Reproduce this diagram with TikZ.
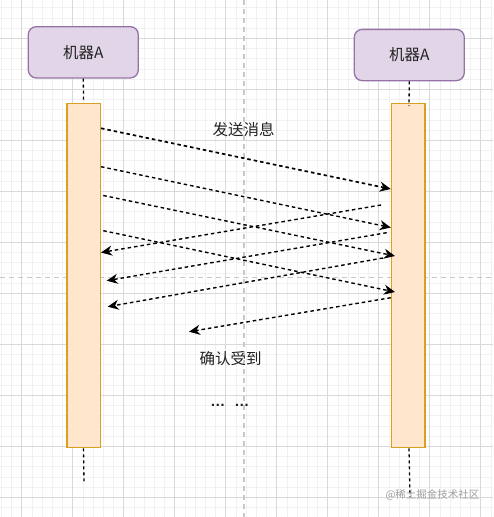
\documentclass[tikz,border=0pt]{standalone}
\usepackage{fontspec}
\setmainfont{Noto Sans CJK SC}
\newfontfamily\latinsans{Liberation Sans}
\usetikzlibrary{arrows.meta}
\definecolor{gridmajor}{HTML}{D9D9D9}
\definecolor{gridminor}{HTML}{F1F1F1}
\definecolor{guidec}{HTML}{C8C8C8}
\definecolor{actorfill}{HTML}{E1D5E7}
\definecolor{actordraw}{HTML}{9673A6}
\definecolor{barfill}{HTML}{FFE6CC}
\definecolor{bardraw}{HTML}{D9A020}
\definecolor{txt}{HTML}{222222}
\tikzset{
  actor/.style={draw=actordraw, fill=actorfill, line width=1.3pt, rounded corners=8pt,
    minimum width=110pt, minimum height=51.3pt, inner sep=0pt, font=\fontsize{15.5}{17}\selectfont, text=txt},
  actbar/.style={draw=bardraw, fill=barfill, line width=1.5pt, minimum width=33.5pt,
    minimum height=344.4pt, inner sep=0pt},
  life/.style={draw=black, line width=1.3pt, dash pattern=on 3pt off 3pt},
  msg/.style={draw=black, line width=1.4pt, dash pattern=on 3.5pt off 3pt,
    -{Stealth[length=11pt,width=10pt,inset=3.5pt]}},
  lbl/.style={font=\fontsize{15.5}{17}\selectfont, text=txt, inner sep=0pt},
  guide/.style={draw=guidec, line width=1.3pt, dash pattern=on 5pt off 4pt}
}
\begin{document}
\begin{tikzpicture}[x=1pt,y=-1pt]
\useasboundingbox (0,0) rectangle (493,517);
\fill[white] (0,0) rectangle (493,517);
% minor grid
\foreach \i in {-2,...,46} { \draw[gridminor, line width=0.8pt] ({21.7+10.2*\i},0) -- ({21.7+10.2*\i},517); }
\foreach \i in {-3,...,46} { \draw[gridminor, line width=0.8pt] (0,{38.3+10.2*\i}) -- (493,{38.3+10.2*\i}); }
% major grid
\foreach \i in {0,...,9} { \draw[gridmajor, line width=0.9pt] ({21.7+51*\i},0) -- ({21.7+51*\i},517); }
\foreach \i in {0,...,9} { \draw[gridmajor, line width=0.9pt] (0,{38.3+51*\i}) -- (493,{38.3+51*\i}); }
% guides
\draw[guide] (244,0) -- (244,517);
\draw[guide] (0,277.7) -- (493,277.7);

% actors
\node[actor] (a1) at (83.3,52.3) {机器A};
\node[actor] (a2) at (409.3,55) {机器A};
% activation bars
\node[actbar] (b1) at (83.5,275.5) {};
\node[actbar] (b2) at (408.3,275.5) {};

% lifelines
\coordinate (r2top) at (409,106);
\coordinate (e1) at (84,482);
\coordinate (e2) at (410,497);
\draw[life] (a1.south) -- (b1.north);
\draw[life] (a2.south) -- (r2top);
\draw[life] (b1.south) -- (e1);
\draw[life] (b2.south -| 409,0) -- (e2);

% message arrows (left to right)
\coordinate (s3) at (103.3,195.5);
\coordinate (s4) at (103.3,230.7);
\coordinate (t3) at (395,256);
\coordinate (t4) at (395,292);
\draw[msg, line width=1.7pt] (b1.east |- 0,128.3) -- (b2.west |- 0,189);
\draw[msg] (b1.east |- 0,166.7) -- (b2.west |- 0,227.5);
\draw[msg] (s3) -- (t3);
\draw[msg] (s4) -- (t4);

% reply arrows (right to left)
\coordinate (u1) at (381,205);
\coordinate (u2) at (386.7,232.7);
\coordinate (u3) at (383,258);
\coordinate (v2) at (106.7,280.7);
\coordinate (v3) at (107.7,306.7);
\coordinate (v4) at (189,331.7);
\draw[msg] (u1) -- (b1.east |- 0,252.5);
\draw[msg] (u2) -- (v2);
\draw[msg] (u3) -- (v3);
\draw[msg] (b2.west |- 0,297.7) -- (v4);

% labels
\node[lbl] (l1) at (243.5,129.5) {发送消息};
\node[lbl] (l2) at (230.7,358.5) {确认受到};
\node[lbl, font=\latinsans\bfseries\fontsize{15}{16}\selectfont] (l3) at (229.8,405) {…\hspace{9pt}…};
\node[lbl, font=\fontsize{10.5}{12}\selectfont, text=black!38] (wm) at (432.5,494.5) {@稀土掘金技术社区};
\end{tikzpicture}
\end{document}
